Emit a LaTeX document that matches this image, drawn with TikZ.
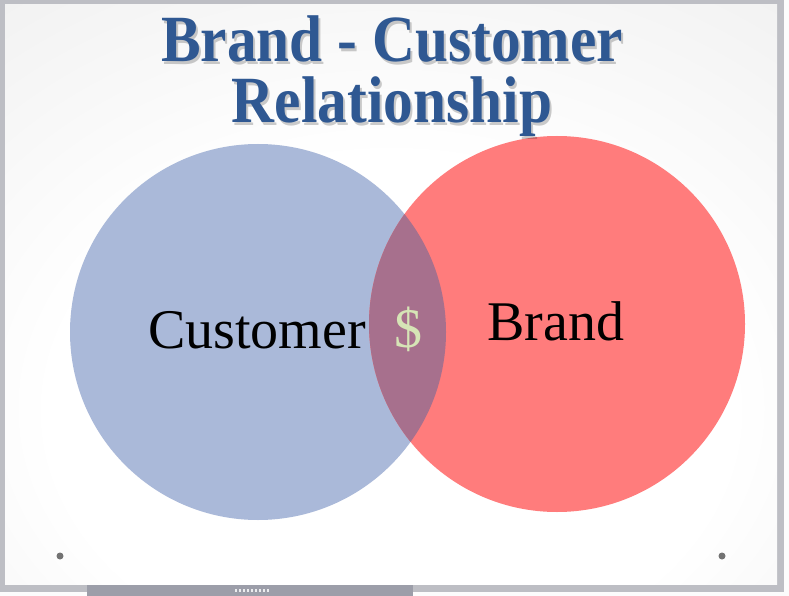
\documentclass[tikz,border=0pt]{standalone}
\usepackage{fontspec}
\setmainfont{Liberation Serif}
\usepackage{xcolor}
\usetikzlibrary{positioning}

\definecolor{custblue}{HTML}{AAB9D9}
\definecolor{brandred}{HTML}{FF7C7C}
\definecolor{overlap}{HTML}{A7708D}
\definecolor{titleblue}{HTML}{2F5892}
\definecolor{dollar}{HTML}{D6E4B6}
\definecolor{frame}{HTML}{BDBEC4}
\definecolor{bar}{HTML}{9C9EA9}

\pgfdeclareradialshading{slidebg}{\pgfpoint{0bp}{-14bp}}{%
  color(0bp)=(white); color(22bp)=(white); color(55bp)=(black!9);
  color(80bp)=(black!17)}

\tikzset{
  titletext/.style={font=\fontsize{66}{66}\selectfont\bfseries,text=titleblue,
    inner sep=0pt,anchor=base},
  shadowtext/.style={titletext,text=black,opacity=0.2},
  bodytext/.style={font=\fontsize{56}{56}\selectfont,inner sep=0pt,anchor=base}
}

\begin{document}
\begin{tikzpicture}[x=1pt,y=-1pt,line join=round]
  \useasboundingbox (0,0) rectangle (789,596);
  % ---- frame and slide ---------------------------------------------------
  \fill[white!95!frame] (0,0) rectangle (789,596);
  \fill[frame] (0,0) rectangle (784,592);
  \fill[bar] (87,584) rectangle (413,596);
  \foreach \i in {0,...,8}
    \fill[white!80!bar] (235+4*\i,589) rectangle (236.5+4*\i,591.5);
  \shade[shading=slidebg] (5,5) rectangle (777,584);

  % ---- circles -----------------------------------------------------------
  \coordinate (cc) at (258,332);
  \coordinate (bc) at (557,324);
  \fill[custblue] (cc) circle (188);
  \fill[brandred] (bc) circle (188);
  \begin{scope}
    \clip (cc) circle (188);
    \fill[overlap] (bc) circle (188);
  \end{scope}

  % ---- title -------------------------------------------------------------
  \node[shadowtext] at (394,65) {\scalebox{0.9}[1]{Brand - Customer}};
  \node[titletext] (title1) at (392,62) {\scalebox{0.9}[1]{Brand - Customer}};
  \node[shadowtext] at (394,126) {\scalebox{0.9}[1]{Relationship}};
  \node[titletext] (title2) at (392,123) {\scalebox{0.9}[1]{Relationship}};

  % ---- labels ------------------------------------------------------------
  \node[bodytext] (customer) at (257,348) {Customer};
  \node[bodytext] (brand) at (556,340) {Brand};
  \node[bodytext,text=dollar] (money) at (408,347) {\$};

  % ---- corner dots -------------------------------------------------------
  \fill[black!55] (60,556) circle (3.5);
  \fill[black!55] (722,556) circle (3.5);
\end{tikzpicture}
\end{document}
